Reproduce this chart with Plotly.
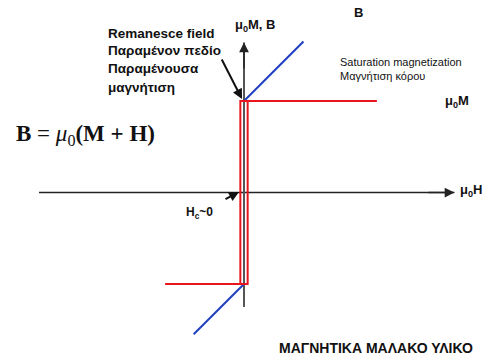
import plotly.graph_objects as go

# ---- data (units: mu0*H and mu0*M normalised to saturation) ----
loop_up_H = [-0.86, 0.04, 0.04, 1.45]
loop_up_M = [-1.0, -1.0, 1.0, 1.0]
loop_down_H = [1.45, -0.04, -0.04, -0.86]
loop_down_M = [1.0, 1.0, -1.0, -1.0]
B_pos_H = [0.0, 0.65]
B_pos_B = [1.0, 1.65]
B_neg_H = [0.0, -0.55]
B_neg_B = [-1.0, -1.55]
h_axis_x = [-2.24, 2.30]
v_axis_y = [-1.25, 1.64]

W, H = 494, 361
S = 91.5
OX, OY = 244, 192.5

def px(x):
    return x / W

def py(y):
    return 1 - y / H

fig = go.Figure()

RED = "#e8161c"
BLUE = "#1f3fbf"
AX = "#222222"

fig.add_trace(go.Scatter(x=h_axis_x, y=[0, 0], mode="lines",
                         line=dict(color=AX, width=1.5), hoverinfo="skip"))
fig.add_trace(go.Scatter(x=[0, 0], y=v_axis_y, mode="lines",
                         line=dict(color="#555555", width=2), hoverinfo="skip"))
fig.add_trace(go.Scatter(x=B_pos_H, y=B_pos_B, mode="lines",
                         line=dict(color=BLUE, width=2), hoverinfo="skip"))
fig.add_trace(go.Scatter(x=B_neg_H, y=B_neg_B, mode="lines",
                         line=dict(color=BLUE, width=2), hoverinfo="skip"))
fig.add_trace(go.Scatter(x=loop_up_H, y=loop_up_M, mode="lines",
                         line=dict(color=RED, width=2), hoverinfo="skip"))
fig.add_trace(go.Scatter(x=loop_down_H, y=loop_down_M, mode="lines",
                         line=dict(color=RED, width=2), hoverinfo="skip"))

ann = []
ann.append(dict(x=h_axis_x[1], y=0, ax=h_axis_x[1] - 0.3, ay=0, xref="x", yref="y",
                axref="x", ayref="y", showarrow=True, arrowhead=2, arrowsize=1.3,
                arrowwidth=1.5, arrowcolor=AX, text=""))
ann.append(dict(x=0, y=v_axis_y[1], ax=0, ay=v_axis_y[1] - 0.3, xref="x", yref="y",
                axref="x", ayref="y", showarrow=True, arrowhead=2, arrowsize=1.3,
                arrowwidth=1.5, arrowcolor=AX, text=""))

def arrow(x0, y0, x1, y1, w=2):
    ann.append(dict(x=(x1 - OX) / S, y=(OY - y1) / S, ax=(x0 - OX) / S, ay=(OY - y0) / S,
                    xref="x", yref="y", axref="x", ayref="y", showarrow=True,
                    arrowhead=2, arrowsize=1.0, arrowwidth=w, arrowcolor="#111111", text=""))

arrow(221, 58, 242, 99)
arrow(224, 200, 239, 192)

SANS = "Liberation Sans, Arial, sans-serif"

def label(x, y, text, size=12, bold=False, family=SANS, xanchor="left", color="#111111"):
    if bold:
        text = "<b>" + text + "</b>"
    ann.append(dict(x=px(x), y=py(y), xref="paper", yref="paper", text=text,
                    showarrow=False, xanchor=xanchor, yanchor="middle",
                    font=dict(size=size, family=family, color=color)))

label(233, 25, "μ<sub>0</sub>M, B", 13, True)
label(352, 13, "B", 13, True)
label(338, 62, "Saturation magnetization", 11)
label(338, 76, "Μαγνήτιση κόρου", 11)
label(443, 101, "μ<sub>0</sub>M", 13, True)
label(106, 33, "Remanesce field", 13.5, True)
label(106, 51, "Παραμένον πεδίο", 13.5, True)
label(106, 69, "Παραμένουσα", 13.5, True)
label(106, 87, "μαγνήτιση", 13.5, True)
label(14, 135, "<b>B</b> = <i>μ</i><sub>0</sub><b>(M + H)</b>", 23, False,
      family="Liberation Serif, Times New Roman, serif")
label(458, 190, "μ<sub>0</sub>H", 13, True)
label(184, 213, "H<sub>c</sub>~0", 12, True)
label(277, 348, "ΜΑΓΝΗΤΙΚΑ ΜΑΛΑΚΟ ΥΛΙΚΟ", 14, True)

fig.update_layout(
    width=W, height=H, margin=dict(l=0, r=0, t=0, b=0),
    paper_bgcolor="white", plot_bgcolor="white", showlegend=False,
    xaxis=dict(range=[-OX / S, (W - OX) / S], visible=False, fixedrange=True),
    yaxis=dict(range=[(OY - H) / S, OY / S], visible=False, fixedrange=True),
    annotations=ann,
)

fig.write_html("out.html", config={"displayModeBar": False},
               post_script="document.body.style.margin='0';")
